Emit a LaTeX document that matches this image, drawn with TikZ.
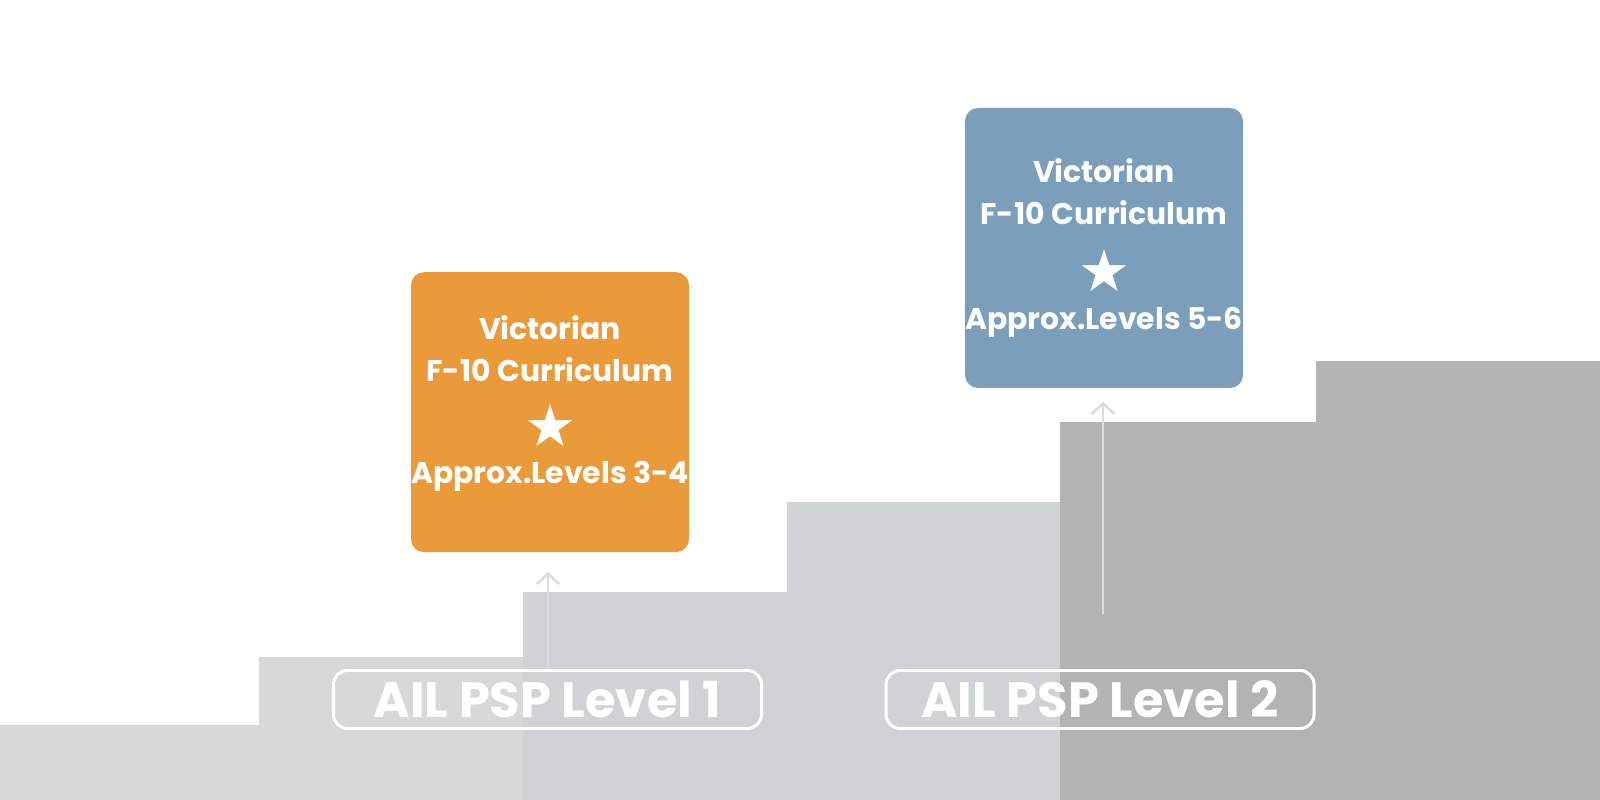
\documentclass[tikz,border=0pt]{standalone}
\usepackage{fontspec}
\setmainfont{Poppins}
\newfontfamily\starfont{DejaVu Sans}
\usetikzlibrary{arrows.meta}
\definecolor{stepA}{HTML}{D8D8D8}
\definecolor{stepB}{HTML}{D0D3D4}
\definecolor{stepC}{HTML}{B3B3B3}
\definecolor{orangebox}{HTML}{EB9A3A}
\definecolor{bluebox}{HTML}{7B9FBA}
\definecolor{riser}{HTML}{DCDCDC}
\begin{document}
\begin{tikzpicture}
  [panel/.style={rounded corners=0.13cm, minimum width=2.78cm, minimum height=2.8cm, inner sep=0pt},
   paneltext/.style={text=white, font=\fontsize{8.5}{12}\selectfont\bfseries, align=center, inner sep=0pt},
   panelstar/.style={text=white, font=\fontsize{16.5}{16.5}\starfont, inner sep=0pt},
   paneltitle/.style={draw=white, line width=0.85pt, rounded corners=0.14cm, minimum width=4.28cm,
     minimum height=0.58cm, inner sep=0pt, text=white, font=\fontsize{14.1}{14}\selectfont\bfseries},
   riserarrow/.style={draw=riser, line width=0.75pt, -{Straight Barb[length=3pt,width=6.5pt]}}]
  \useasboundingbox (0,0) rectangle (16,8);
  % steps
  \fill[stepA] (0,0) rectangle (2.59,0.745);
  \fill[stepA] (2.59,0) rectangle (5.23,1.43);
  \fill[stepB] (5.23,0) rectangle (7.87,2.08);
  \fill[stepB] (7.87,0) rectangle (10.60,2.98);
  \fill[stepC] (10.60,0) rectangle (13.16,3.78);
  \fill[stepC] (13.16,0) rectangle (16,4.39);

  \node[panel, fill=orangebox] (lvlA) at (5.50,3.878) {};
  \node[paneltext] (lvlAtop) at ([yshift=-0.77cm]lvlA.north) {Victorian\\F-10 Curriculum};
  \node[panelstar] (lvlAstar) at ([yshift=-1.54cm]lvlA.north) {★};
  \node[paneltext] (lvlAbot) at ([yshift=-2.05cm]lvlA.north) {Approx.Levels 3-4};

  \node[panel, fill=bluebox] (lvlB) at (11.04,5.52) {};
  \node[paneltext] (lvlBtop) at ([yshift=-0.845cm]lvlB.north) {Victorian\\F-10 Curriculum};
  \node[panelstar] (lvlBstar) at ([yshift=-1.63cm]lvlB.north) {★};
  \node[paneltext] (lvlBbot) at ([yshift=-2.15cm]lvlB.north) {Approx.Levels 5-6};

  \node[paneltitle] (pspA) at (5.475,1.005) {AIL PSP Level 1};
  \node[paneltitle] (pspB) at (11.0,1.005) {AIL PSP Level 2};

  \coordinate (pspBup) at (11.03,1.857);
  \draw[riserarrow, shorten >=0.19cm] (pspA.north -| 5.48,0) -- (lvlA.south -| 5.48,0);
  \draw[riserarrow, shorten >=0.13cm] (pspBup) -- (lvlB.south -| pspBup);
\end{tikzpicture}
\end{document}
